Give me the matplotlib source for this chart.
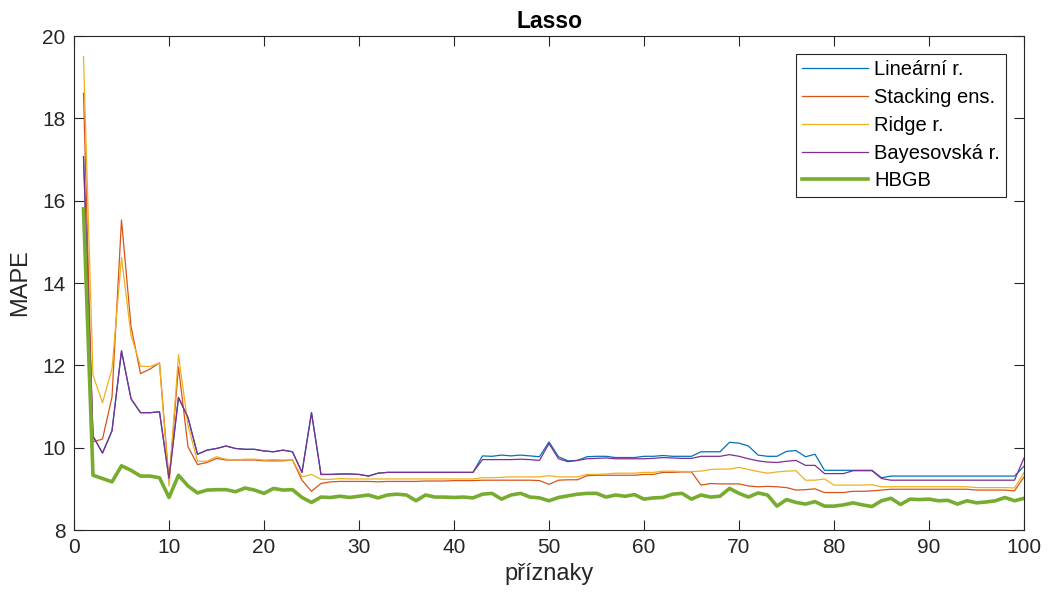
import matplotlib
matplotlib.use("Agg")
import matplotlib.pyplot as plt

plt.rcParams['font.family'] = ['Liberation Sans', 'DejaVu Sans']

x = list(range(1, 101))

linear = [17.07, 10.28, 9.87, 10.41, 12.35, 11.19, 10.85, 10.85, 10.87, 9.25,
          11.22, 10.73, 9.84, 9.94, 9.98, 10.04, 9.98, 9.96, 9.96, 9.92,
          9.90, 9.94, 9.90, 9.40, 10.85, 9.35, 9.35, 9.36, 9.36, 9.35,
          9.31, 9.38, 9.40, 9.40, 9.40, 9.40, 9.40, 9.40, 9.40, 9.40,
          9.40, 9.40, 9.80, 9.79, 9.82, 9.80, 9.82, 9.80, 9.78, 10.14,
          9.78, 9.68, 9.69, 9.78, 9.79, 9.79, 9.76, 9.76, 9.76, 9.79,
          9.79, 9.81, 9.79, 9.79, 9.79, 9.90, 9.90, 9.90, 10.13, 10.11,
          10.04, 9.82, 9.79, 9.79, 9.91, 9.93, 9.78, 9.84, 9.45, 9.45,
          9.45, 9.45, 9.45, 9.45, 9.27, 9.31, 9.31, 9.31, 9.31, 9.31,
          9.31, 9.31, 9.31, 9.31, 9.31, 9.31, 9.31, 9.31, 9.31, 9.55]

stacking = [18.61, 10.14, 10.21, 11.23, 15.53, 12.95, 11.80, 11.91, 12.06, 9.20,
            11.96, 10.02, 9.59, 9.64, 9.74, 9.70, 9.70, 9.70, 9.70, 9.68,
            9.68, 9.68, 9.70, 9.21, 8.94, 9.13, 9.17, 9.18, 9.18, 9.18,
            9.18, 9.17, 9.18, 9.18, 9.18, 9.18, 9.19, 9.19, 9.19, 9.20,
            9.20, 9.20, 9.21, 9.21, 9.21, 9.21, 9.21, 9.21, 9.20, 9.11,
            9.21, 9.22, 9.22, 9.32, 9.33, 9.33, 9.33, 9.33, 9.33, 9.35,
            9.35, 9.40, 9.40, 9.41, 9.41, 9.09, 9.13, 9.12, 9.12, 9.12,
            9.07, 9.05, 9.06, 9.05, 9.03, 8.97, 8.98, 9.00, 8.91, 8.91,
            8.91, 8.94, 8.94, 8.95, 8.97, 8.99, 8.99, 8.99, 8.99, 8.99,
            8.99, 8.99, 8.99, 8.99, 8.97, 8.97, 8.97, 8.97, 8.95, 9.29]

ridge = [19.50, 11.76, 11.09, 11.92, 14.62, 12.73, 11.98, 11.97, 12.06, 9.07,
         12.26, 10.55, 9.67, 9.67, 9.78, 9.72, 9.70, 9.72, 9.72, 9.70,
         9.71, 9.70, 9.70, 9.29, 9.35, 9.23, 9.23, 9.25, 9.24, 9.24,
         9.24, 9.24, 9.24, 9.24, 9.24, 9.24, 9.24, 9.24, 9.24, 9.24,
         9.24, 9.24, 9.27, 9.27, 9.28, 9.29, 9.29, 9.29, 9.29, 9.32,
         9.29, 9.29, 9.29, 9.35, 9.35, 9.36, 9.38, 9.38, 9.38, 9.40,
         9.40, 9.43, 9.43, 9.42, 9.42, 9.43, 9.47, 9.48, 9.48, 9.52,
         9.47, 9.42, 9.38, 9.41, 9.43, 9.44, 9.21, 9.21, 9.24, 9.09,
         9.09, 9.09, 9.09, 9.10, 9.05, 9.05, 9.05, 9.05, 9.05, 9.05,
         9.05, 9.05, 9.05, 9.05, 9.03, 9.03, 9.03, 9.03, 9.02, 9.39]

bayes = [17.07, 10.28, 9.87, 10.41, 12.35, 11.19, 10.85, 10.85, 10.87, 9.25,
         11.22, 10.73, 9.84, 9.94, 9.98, 10.04, 9.98, 9.96, 9.96, 9.92,
         9.90, 9.94, 9.90, 9.40, 10.85, 9.35, 9.35, 9.36, 9.36, 9.35,
         9.31, 9.38, 9.40, 9.40, 9.40, 9.40, 9.40, 9.40, 9.40, 9.40,
         9.40, 9.40, 9.71, 9.71, 9.71, 9.71, 9.72, 9.71, 9.69, 10.10,
         9.73, 9.66, 9.69, 9.73, 9.74, 9.75, 9.73, 9.73, 9.73, 9.73,
         9.74, 9.76, 9.75, 9.74, 9.74, 9.79, 9.79, 9.79, 9.83, 9.79,
         9.73, 9.68, 9.65, 9.64, 9.67, 9.69, 9.57, 9.57, 9.37, 9.37,
         9.37, 9.44, 9.44, 9.44, 9.25, 9.21, 9.21, 9.21, 9.21, 9.21,
         9.21, 9.21, 9.21, 9.21, 9.21, 9.21, 9.21, 9.21, 9.21, 9.75]

hbgb = [15.80, 9.33, 9.25, 9.17, 9.56, 9.45, 9.31, 9.31, 9.27, 8.79,
        9.33, 9.07, 8.90, 8.97, 8.98, 8.98, 8.93, 9.02, 8.97, 8.89,
        9.01, 8.97, 8.98, 8.79, 8.67, 8.80, 8.79, 8.82, 8.79, 8.82,
        8.85, 8.78, 8.85, 8.87, 8.85, 8.71, 8.85, 8.80, 8.80, 8.79,
        8.80, 8.78, 8.87, 8.89, 8.75, 8.85, 8.89, 8.80, 8.78, 8.71,
        8.79, 8.83, 8.87, 8.89, 8.89, 8.80, 8.85, 8.82, 8.86, 8.75,
        8.78, 8.79, 8.87, 8.89, 8.75, 8.85, 8.80, 8.82, 9.01, 8.89,
        8.80, 8.90, 8.85, 8.58, 8.74, 8.67, 8.63, 8.69, 8.58, 8.58,
        8.61, 8.66, 8.61, 8.57, 8.71, 8.77, 8.62, 8.75, 8.74, 8.75,
        8.71, 8.72, 8.63, 8.71, 8.66, 8.68, 8.71, 8.79, 8.71, 8.77]

labels = ['Lineární r.', 'Stacking ens.', 'Ridge r.', 'Bayesovská r.', 'HBGB']
colors = ['#0072BD', '#D95319', '#EDB120', '#7E2F8E', '#77AC30']
xticks = [0, 10, 20, 30, 40, 50, 60, 70, 80, 90, 100]
yticks = [8, 10, 12, 14, 16, 18, 20]

axc = '#262626'
fig = plt.figure(figsize=(10.48, 6.01), dpi=100)
ax = fig.add_axes([74/1048, 1 - 530/601, (1024-74)/1048, (530-36)/601])

series = [linear, stacking, ridge, bayes, hbgb]
for s, lab, c in zip(series, labels, colors):
    lw = 2.6 if lab == 'HBGB' else 0.9
    ax.plot(x, s, color=c, lw=lw, label=lab)

ax.set_xlim(0, 100)
ax.set_ylim(8, 20)
ax.set_xticks(xticks)
ax.set_yticks(yticks)
ax.tick_params(direction='in', length=7, width=0.8, top=True, right=True,
               labelsize=15, colors=axc, pad=6)
for sp in ax.spines.values():
    sp.set_color(axc)
    sp.set_linewidth(0.8)

ax.set_title('Lasso', fontsize=16.5, fontweight='bold', pad=6)
ax.set_xlabel('příznaky', fontsize=17, color=axc, labelpad=4)
ax.set_ylabel('MAPE', fontsize=17, color=axc, labelpad=8)

leg = ax.legend(loc='upper right', bbox_to_anchor=(1006/1048, 1 - 54/601),
                bbox_transform=fig.transFigure, fontsize=14.5, fancybox=False,
                framealpha=1, edgecolor=axc, handlelength=3.3,
                handletextpad=0.3, labelspacing=0.44, borderpad=0.3,
                borderaxespad=0)
leg.get_frame().set_linewidth(0.8)

fig.savefig('out.png', dpi=100)
